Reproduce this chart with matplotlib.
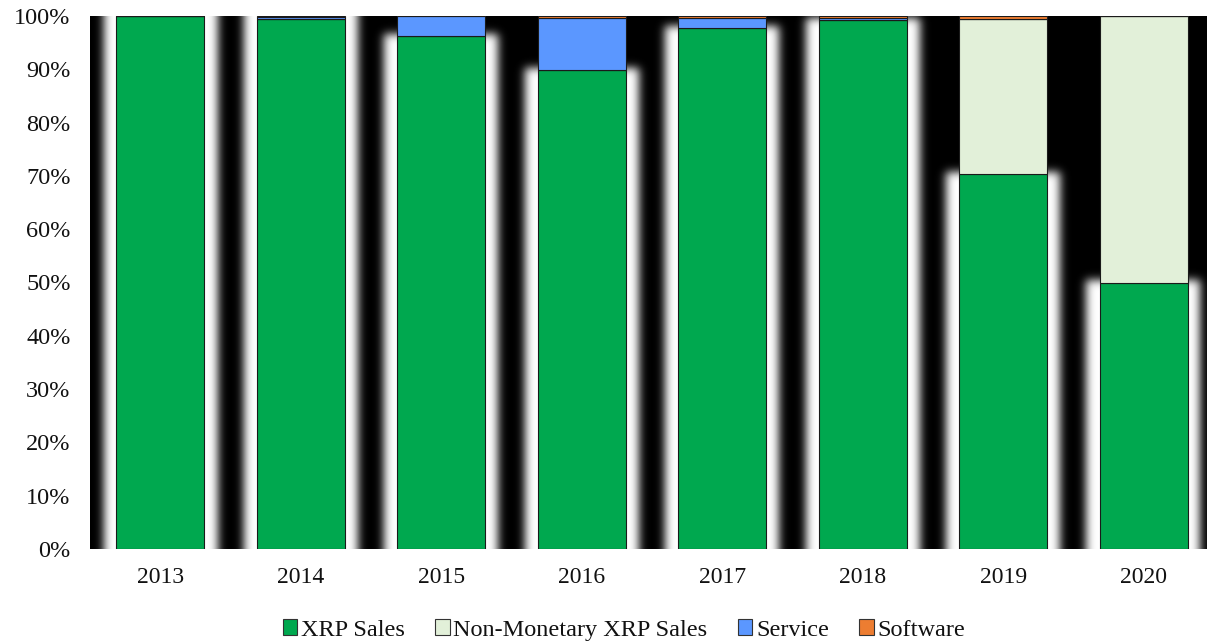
import numpy as np
import matplotlib.pyplot as plt
from matplotlib.patches import Patch

years = ['2013', '2014', '2015', '2016', '2017', '2018', '2019', '2020']
xrp_sales = [100.0, 99.5, 96.2, 89.8, 97.7, 99.2, 70.3, 50.0]
non_monetary = [0.0, 0.0, 0.0, 0.0, 0.0, 0.0, 29.1, 50.0]
service = [0.0, 0.4, 3.8, 9.8, 1.9, 0.5, 0.0, 0.0]
software = [0.0, 0.1, 0.0, 0.4, 0.4, 0.3, 0.6, 0.0]

series = [
    ('XRP Sales', xrp_sales, '#00a84f'),
    ('Non-Monetary XRP Sales', non_monetary, '#e2f0d9'),
    ('Service', service, '#5b97ff'),
    ('Software', software, '#ed7d31'),
]

plt.rcParams['font.family'] = ['Liberation Serif', 'DejaVu Serif']
plt.rcParams['font.size'] = 17

W, H = 1207, 642
fig = plt.figure(figsize=(W / 100, H / 100), dpi=100)
ax = fig.add_axes([90 / W, 93 / H, 1124 / W, 533 / H])
ax.set_facecolor('black')

x = np.arange(len(years))
width = 0.627

# white glow around the green part of each bar, blurred (scan artefact look)
nx, ny = 1124, 533
gx = np.linspace(-0.5, len(years) - 0.5, nx)
gy = np.linspace(0, 100, ny)
px_x = len(years) / nx
px_y = 100 / ny
mask = np.zeros((ny, nx))
for i, top in enumerate(xrp_sales):
    inx = np.abs(gx - x[i]) <= width / 2 + 13 * px_x
    iny = gy <= top + 3 * px_y
    mask[np.ix_(iny, inx)] = 1.0

sig = 4.5
k = np.arange(-15, 16)
kern = np.exp(-k ** 2 / (2 * sig ** 2))
kern /= kern.sum()
pad = 16
m = np.pad(mask, pad, mode='edge')
m = np.apply_along_axis(lambda r: np.convolve(r, kern, mode='same'), 1, m)
m = np.apply_along_axis(lambda c: np.convolve(c, kern, mode='same'), 0, m)
glow = m[pad:-pad, pad:-pad]
ax.imshow(glow, cmap='gray', vmin=0, vmax=1, origin='lower', aspect='auto',
          extent=(-0.5, len(years) - 0.5, 0, 100), zorder=0, interpolation='bilinear')

bottom = np.zeros(len(years))
for name, vals, col in series:
    vals = np.array(vals)
    ax.bar(x, vals, width, bottom=bottom, color=col, edgecolor='#1a1a1a',
           linewidth=0.8, zorder=2)
    bottom += vals

ax.set_xlim(-0.5, len(years) - 0.5)
ax.set_ylim(0, 100)
ax.set_xticks(x)
ax.set_xticklabels(years)
ax.set_yticks(np.arange(0, 101, 10))
ax.set_yticklabels([f'{v}%' for v in range(0, 101, 10)], fontsize=17.5)
ax.tick_params(axis='both', length=0, colors='#111111')
ax.tick_params(axis='y', pad=14)
ax.tick_params(axis='x', pad=13)
for s in ax.spines.values():
    s.set_visible(False)

handles = [Patch(facecolor=c, edgecolor='#333333', linewidth=0.8, label=n) for n, _, c in series]
fig.legend(handles=handles, loc='center', bbox_to_anchor=(624 / W, 1 - 630 / H), ncol=4,
           frameon=False, handlelength=0.6, handleheight=0.6, handletextpad=0.15,
           columnspacing=1.25, fontsize=17.5, labelcolor='#111111')

fig.savefig('out.png', dpi=100)
